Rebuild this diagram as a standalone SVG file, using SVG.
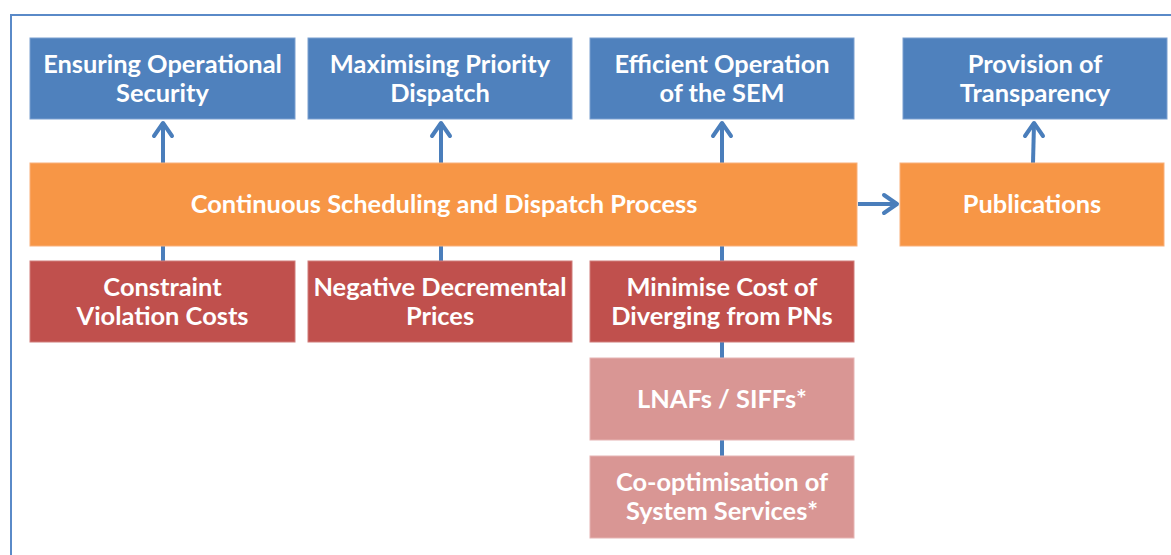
<svg xmlns="http://www.w3.org/2000/svg" width="1171" height="555" viewBox="0 0 1171 555">
<style>
.t{font-family:Lato,"Open Sans","Liberation Sans",sans-serif;font-weight:bold;font-size:25.4px;fill:#fff;text-anchor:middle}
.blue{fill:#4f81bd;stroke:#7a9fd0;stroke-width:1}
.orange{fill:#f79646;stroke:#f9b07a;stroke-width:1}
.red{fill:#c0504d;stroke:#d07c7a;stroke-width:1}
.pink{fill:#d99694;stroke:#e6b4b3;stroke-width:1}
.c{fill:none;stroke:#4a7ebb;stroke-width:4}
.h{fill:none;stroke:#4a7ebb;stroke-width:4;stroke-linecap:round;stroke-linejoin:round}
</style>
<rect width="1171" height="555" fill="#fff"/>
<rect x="11" y="15" width="1200" height="600" fill="none" stroke="#5a8ac8" stroke-width="2"/>
<g id="connectors">
<line class="c" x1="163" y1="163" x2="163" y2="124"/><polyline class="h" points="154,136 163,123 172,136"/>
<line class="c" x1="441" y1="163" x2="441" y2="124"/><polyline class="h" points="432,136 441,123 450,136"/>
<line class="c" x1="722" y1="163" x2="722" y2="124"/><polyline class="h" points="713,136 722,123 731,136"/>
<line class="c" x1="1033" y1="163" x2="1034" y2="124"/><polyline class="h" points="1025,136 1034,123 1043,136"/>
<line class="c" x1="858" y1="204" x2="896" y2="204"/><polyline class="h" points="884,195 897,204 884,213"/>
<line class="c" x1="163" y1="246" x2="163" y2="261"/>
<line class="c" x1="441" y1="246" x2="441" y2="261"/>
<line class="c" x1="722" y1="246" x2="722" y2="261"/>
<line class="c" x1="722" y1="342" x2="722" y2="358"/>
<line class="c" x1="722" y1="440" x2="722" y2="456"/>
</g>
<g id="ensuring"><rect class="blue" x="30" y="38" width="265" height="81"/><text class="t" x="162.5" y="73">Ensuring Operational</text><text class="t" x="162.5" y="102">Security</text></g>
<g id="maximising"><rect class="blue" x="308" y="38" width="264" height="81"/><text class="t" x="440" y="73">Maximising Priority</text><text class="t" x="440" y="102">Dispatch</text></g>
<g id="efficient"><rect class="blue" x="590" y="38" width="264" height="81"/><text class="t" x="722" y="73">Efficient Operation</text><text class="t" x="722" y="102">of the SEM</text></g>
<g id="transparency"><rect class="blue" x="903" y="38" width="264" height="81"/><text class="t" x="1035" y="73">Provision of</text><text class="t" x="1035" y="102">Transparency</text></g>
<g id="process"><rect class="orange" x="30" y="163" width="827" height="83"/><text class="t" x="444" y="213">Continuous Scheduling and Dispatch Process</text></g>
<g id="publications"><rect class="orange" x="900" y="163" width="264" height="83"/><text class="t" x="1032" y="213">Publications</text></g>
<g id="constraint"><rect class="red" x="30" y="261" width="265" height="81"/><text class="t" x="162.5" y="296">Constraint</text><text class="t" x="162.5" y="325">Violation Costs</text></g>
<g id="negative"><rect class="red" x="308" y="261" width="264" height="81"/><text class="t" x="440" y="296">Negative Decremental</text><text class="t" x="440" y="325">Prices</text></g>
<g id="minimise"><rect class="red" x="590" y="261" width="264" height="81"/><text class="t" x="722" y="296">Minimise Cost of</text><text class="t" x="722" y="325">Diverging from PNs</text></g>
<g id="lnafs"><rect class="pink" x="590" y="358" width="264" height="82"/><text class="t" x="722" y="408">LNAFs / SIFFs*</text></g>
<g id="cooptimisation"><rect class="pink" x="590" y="456" width="264" height="82"/><text class="t" x="722" y="491">Co-optimisation of</text><text class="t" x="722" y="520">System Services*</text></g>
</svg>
